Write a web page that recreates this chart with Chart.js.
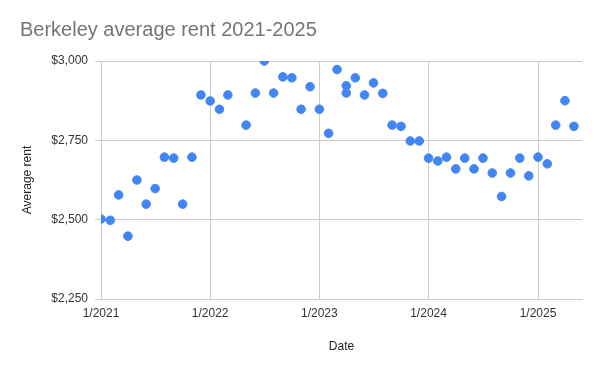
<!DOCTYPE html>
<html>
<head>
<meta charset="utf-8">
<script src="https://cdn.jsdelivr.net/npm/chart.js@4/dist/chart.umd.min.js"></script>
<style>
  body { margin: 0; background: #fff; }
</style>
</head>
<body>
<canvas id="rent-chart" width="600" height="371"></canvas>
<script>
// month of each reading (yyyy-mm)
const months = [
  '2021-01', '2021-02', '2021-03', '2021-04', '2021-05', '2021-06',
  '2021-07', '2021-08', '2021-09', '2021-10', '2021-11', '2021-12',
  '2022-01', '2022-02', '2022-03', '2022-05', '2022-06', '2022-07',
  '2022-08', '2022-09', '2022-10', '2022-11', '2022-12',
  '2023-01', '2023-02', '2023-03', '2023-04', '2023-04', '2023-05',
  '2023-06', '2023-07', '2023-08', '2023-09', '2023-10', '2023-11', '2023-12',
  '2024-01', '2024-02', '2024-03', '2024-04', '2024-05', '2024-06',
  '2024-07', '2024-08', '2024-09', '2024-10', '2024-11', '2024-12',
  '2025-01', '2025-02', '2025-03', '2025-04', '2025-05'
];

// average rent in dollars for each month above
const rents = [
  2502, 2498, 2578, 2448, 2625, 2549,
  2598, 2697, 2694, 2549, 2697, 2893,
  2874, 2848, 2893, 2798, 2899, 3000,
  2899, 2950, 2947, 2848, 2919,
  2848, 2772, 2973, 2922, 2899, 2947,
  2893, 2931, 2898, 2798, 2794, 2748, 2748,
  2694, 2685, 2697, 2660, 2694, 2660,
  2694, 2647, 2573, 2647, 2694, 2638,
  2697, 2676, 2798, 2875, 2794
];

// tick labels on the axes
const xTickYears = [2021, 2022, 2023, 2024, 2025];
const yTicks = [2250, 2500, 2750, 3000];

//turning "2021-01" into a number the linear scale can use
function monthToTime(m) {
  const parts = m.split('-');
  return Date.UTC(Number(parts[0]), Number(parts[1]) - 1, 1);
}

const points = months.map(function(m, i) {
  return { x: monthToTime(m), y: rents[i] };
});

const FONT = "'Liberation Sans', Arial, sans-serif";

const config = {
  type: 'scatter',
  data: {
    datasets: [{
      label: 'Average rent',
      data: points,
      backgroundColor: '#4285F4',
      borderColor: '#4285F4',
      pointRadius: 4.3,
      pointHoverRadius: 5
    }]
  },
  options: {
    responsive: false,
    animation: false,
    layout: { padding: { left: 20, right: 18, top: 0, bottom: 0 } },
    plugins: {
      legend: { display: false },
      tooltip: { enabled: false },
      title: {
        display: true,
        text: 'Berkeley average rent 2021-2025',
        align: 'start',
        color: '#757575',
        font: { family: FONT, size: 20, weight: 'normal' },
        padding: { top: 18, bottom: 19 }
      }
    },
    scales: {
      x: {
        type: 'linear',
        min: Date.UTC(2021, 0, 1),
        max: Date.UTC(2025, 4, 28),
        afterBuildTicks: function(axis) {
          axis.ticks = xTickYears.map(function(y) { return { value: Date.UTC(y, 0, 1) }; });
        },
        afterFit: function(axis) { axis.height = 72; },
        ticks: {
          color: '#333',
          font: { family: FONT, size: 12 },
          padding: 7,
          maxRotation: 0,
          callback: function(v) {
            const d = new Date(v);
            return (d.getUTCMonth() + 1) + '/' + d.getUTCFullYear();
          }
        },
        grid: { color: '#cccccc', drawTicks: false },
        border: { color: '#cccccc' },
        title: {
          display: true,
          text: 'Date',
          color: '#222',
          font: { family: FONT, size: 12 },
          padding: { top: 0, bottom: 17 }
        }
      },
      y: {
        min: 2250,
        max: 3000,
        afterBuildTicks: function(axis) {
          axis.ticks = yTicks.map(function(v) { return { value: v }; });
        },
        afterFit: function(axis) { axis.width = 81; },
        ticks: {
          color: '#333',
          font: { family: FONT, size: 12 },
          padding: 7
        ,
          callback: function(v) { return '$' + v.toLocaleString('en-US'); }
        },
        grid: { color: '#cccccc', drawTicks: true, tickLength: 6 },
        border: { display: false },
        title: {
          display: true,
          text: 'Average rent',
          color: '#222',
          font: { family: FONT, size: 12 },
          padding: { top: 0, bottom: 0 }
        }
      }
    }
  }
};

new Chart(document.getElementById('rent-chart'), config);
</script>
</body>
</html>
